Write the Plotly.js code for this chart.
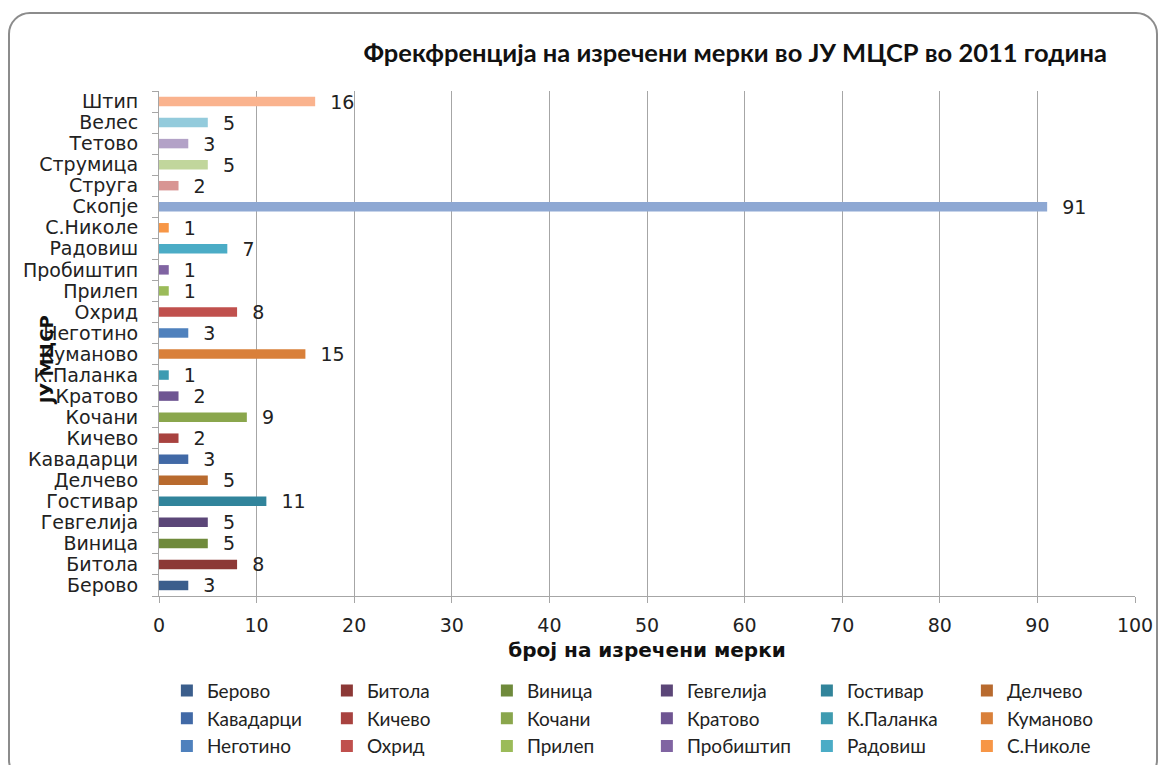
<!DOCTYPE html>
<html><head><meta charset="utf-8">
<script src="https://cdn.plot.ly/plotly-3.0.1.min.js"></script>
<style>
html,body{margin:0;padding:0;background:#fff;}
#frame{position:absolute;left:8px;top:12px;width:1150px;height:770px;border:2px solid #8c8c8c;border-radius:22px;box-sizing:border-box;}
#chart{position:absolute;left:0;top:0;width:1167px;height:765px;}
</style></head>
<body>
<div id="frame"></div>
<div id="chart"></div>
<script>
const cities = ["Берово","Битола","Виница","Гевгелија","Гостивар","Делчево","Кавадарци","Кичево","Кочани","Кратово","К.Паланка","Куманово","Неготино","Охрид","Прилеп","Пробиштип","Радовиш","С.Николе","Скопје","Струга","Струмица","Тетово","Велес","Штип"];
const counts = [3,8,5,5,11,5,3,2,9,2,1,15,3,8,1,1,7,1,91,2,5,3,5,16];
const colors = ["#3B5E8C","#8C3836","#6F8A3B","#5B4678","#31849B","#B86A2E","#4169A6","#A8423F","#8AA64C","#6E5592","#3E9BB1","#D9803A","#4F81BD","#C0504D","#9BBB59","#8064A2","#4BACC6","#F79646","#8EA8D3","#D89593","#C1D69C","#B3A2C7","#93CBDC","#FAB38E"];
const legendShown = 18;

const traces = cities.map((c,i)=>({
  type:'bar', orientation:'h', name:c,
  x:[counts[i]], y:[c],
  width:0.45,
  marker:{color:colors[i]},
  text:[String(counts[i])], texttemplate:'  %{text}', textposition:'outside', cliponaxis:false,
  constraintext:'none',
  textfont:{family:'DejaVu Sans', size:19, color:'#222'},
  showlegend: i < legendShown,
  hoverinfo:'x+y'
}));

const layout = {
  width:1167, height:765,
  paper_bgcolor:'rgba(0,0,0,0)', plot_bgcolor:'rgba(0,0,0,0)',
  margin:{l:159, r:32, t:91, b:169},
  barmode:'overlay',
  title:{text:'<b>Фрекфренција на изречени мерки во ЈУ МЦСР во 2011 година</b>', xref:'container', x:0.63, xanchor:'center', y:0.93, yanchor:'middle',
    font:{family:'Lato, sans-serif', size:25.5, color:'#111'}},
  xaxis:{range:[0,100], dtick:10, tick0:0, showgrid:true, gridcolor:'#a6a6a6', gridwidth:1,
    showline:true, linecolor:'#a6a6a6', ticks:'outside', ticklen:6, tickcolor:'#a6a6a6',
    ticklabelstandoff:6,
    tickfont:{family:'DejaVu Sans', size:19, color:'#222'}, zeroline:false, automargin:false,
    title:{text:'<b>број на изречени мерки</b>', standoff:8, font:{family:'DejaVu Sans', size:20, color:'#111'}}},
  yaxis:{type:'category', categoryorder:'array', categoryarray:cities, showgrid:false,
    tickmode:'array', tickvals:cities, ticktext:cities,
    showline:true, linecolor:'#a6a6a6', ticks:'outside', tickson:'boundaries', ticklen:6, tickcolor:'#a6a6a6',
    ticklabelstandoff:16,
    tickfont:{family:'DejaVu Sans', size:19, color:'#222'}, range:[-0.5,23.5], automargin:false},
  legend:{orientation:'h', xref:'container', yref:'container', x:0.143, xanchor:'left', y:0.122, yanchor:'top', entrywidth:115, traceorder:'normal',
    font:{family:'Lato, sans-serif', size:19, color:'#222'}, itemwidth:30, tracegroupgap:0},
  annotations:[{text:'<b>ЈУ МЦСР</b>', textangle:-90, xref:'paper', yref:'paper', x:-0.128, y:0.466, showarrow:false,
    font:{family:'DejaVu Sans', size:18, color:'#111'}}],
  showlegend:true
};
Plotly.newPlot('chart', traces, layout, {displayModeBar:false, staticPlot:true});
</script>
</body></html>
